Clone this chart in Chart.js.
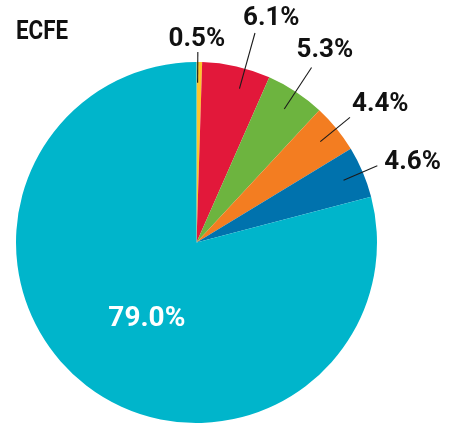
<!DOCTYPE html>
<html>
<head>
<meta charset="utf-8">
<script src="https://cdn.jsdelivr.net/npm/chart.js@4"></script>
<style>
  html, body { margin: 0; padding: 0; background: #fff; }
  canvas { display: block; }
</style>
</head>
<body>
<canvas id="pieChart" width="461" height="423"></canvas>
<script>
// Data
const title = 'ECFE';
const categories = ['A', 'B', 'C', 'D', 'E', 'F'];
const shares = [0.5, 6.1, 5.3, 4.4, 4.6, 79.0];
const valueLabels = ['0.5%', '6.1%', '5.3%', '4.4%', '4.6%', '79.0%'];
const sliceColors = ['#FDC52C', '#E2183A', '#6DB43F', '#F37D21', '#0072AD', '#00B5CB'];

// How each label sits relative to its slice (leader line lengths, text nudges)
const labelLayout = [
    { outer: 1.055, nudge: -0.5, dx: -1, dy: -6, align: 'center' },
    { outer: 1.205, nudge: 2.8, dx: -12, dy: -8, align: 'left' },
    { outer: 1.16, nudge: 0, dx: -15, dy: -11, align: 'left' },
    { outer: 1.097, nudge: 0, dx: 2, dy: -6, align: 'left' },
    { outer: 1.088, nudge: 0, dx: 7, dy: 3, align: 'left' },
    { inside: 0.49, nudge: -3.5 }
];

const labelPlugin = {
    id: 'sliceLabels',
    afterDatasetsDraw(chart) {
        const ctx = chart.ctx;
        const arcs = chart.getDatasetMeta(0).data;
        ctx.save();

        // title, squeezed to look condensed
        ctx.save();
        ctx.fillStyle = '#111';
        ctx.font = 'bold 26px "Roboto", sans-serif';
        ctx.textAlign = 'left';
        ctx.textBaseline = 'alphabetic';
        ctx.translate(16, 39);
        ctx.scale(0.86, 1);
        ctx.fillText(title, 0, 0);
        ctx.restore();

        arcs.forEach((arc, i) => {
            const { x, y, startAngle, endAngle, outerRadius } = arc.getProps(['x', 'y', 'startAngle', 'endAngle', 'outerRadius'], true);
            const lay = labelLayout[i];
            const mid = (startAngle + endAngle) / 2 + lay.nudge * Math.PI / 180;

            if (lay.inside) {
                const px = x + Math.cos(mid) * outerRadius * lay.inside;
                const py = y + Math.sin(mid) * outerRadius * lay.inside;
                ctx.fillStyle = '#fff';
                ctx.font = 'bold 28px "Roboto", sans-serif';
                ctx.textAlign = 'center';
                ctx.textBaseline = 'alphabetic';
                ctx.fillText(valueLabels[i], px, py + 10);
                return;
            }

            const x1 = x + Math.cos(mid) * outerRadius * 0.885;
            const y1 = y + Math.sin(mid) * outerRadius * 0.885;
            const x2 = x + Math.cos(mid) * outerRadius * lay.outer;
            const y2 = y + Math.sin(mid) * outerRadius * lay.outer;

            ctx.strokeStyle = '#1a1a1a';
            ctx.lineWidth = 1.1;
            ctx.beginPath();
            ctx.moveTo(x1, y1);
            ctx.lineTo(x2, y2);
            ctx.stroke();

            ctx.fillStyle = '#111';
            ctx.font = 'bold 26px "Roboto", sans-serif';
            ctx.textAlign = lay.align;
            ctx.textBaseline = 'alphabetic';
            ctx.fillText(valueLabels[i], x2 + lay.dx, y2 + lay.dy);
        });

        ctx.restore();
    }
};

const ctx = document.getElementById('pieChart').getContext('2d');
const pieChart = new Chart(ctx, {
    type: 'pie',
    data: {
        labels: categories,
        datasets: [{
            data: shares,
            backgroundColor: sliceColors,
            borderWidth: 0,
            radius: 180.5
        }]
    },
    options: {
        responsive: false,
        animation: false,
        layout: {
            padding: { left: 16, top: 62, right: 84, bottom: 0 }
        },
        plugins: {
            legend: { display: false },
            tooltip: { enabled: false }
        }
    },
    plugins: [labelPlugin]
});
</script>
</body>
</html>
